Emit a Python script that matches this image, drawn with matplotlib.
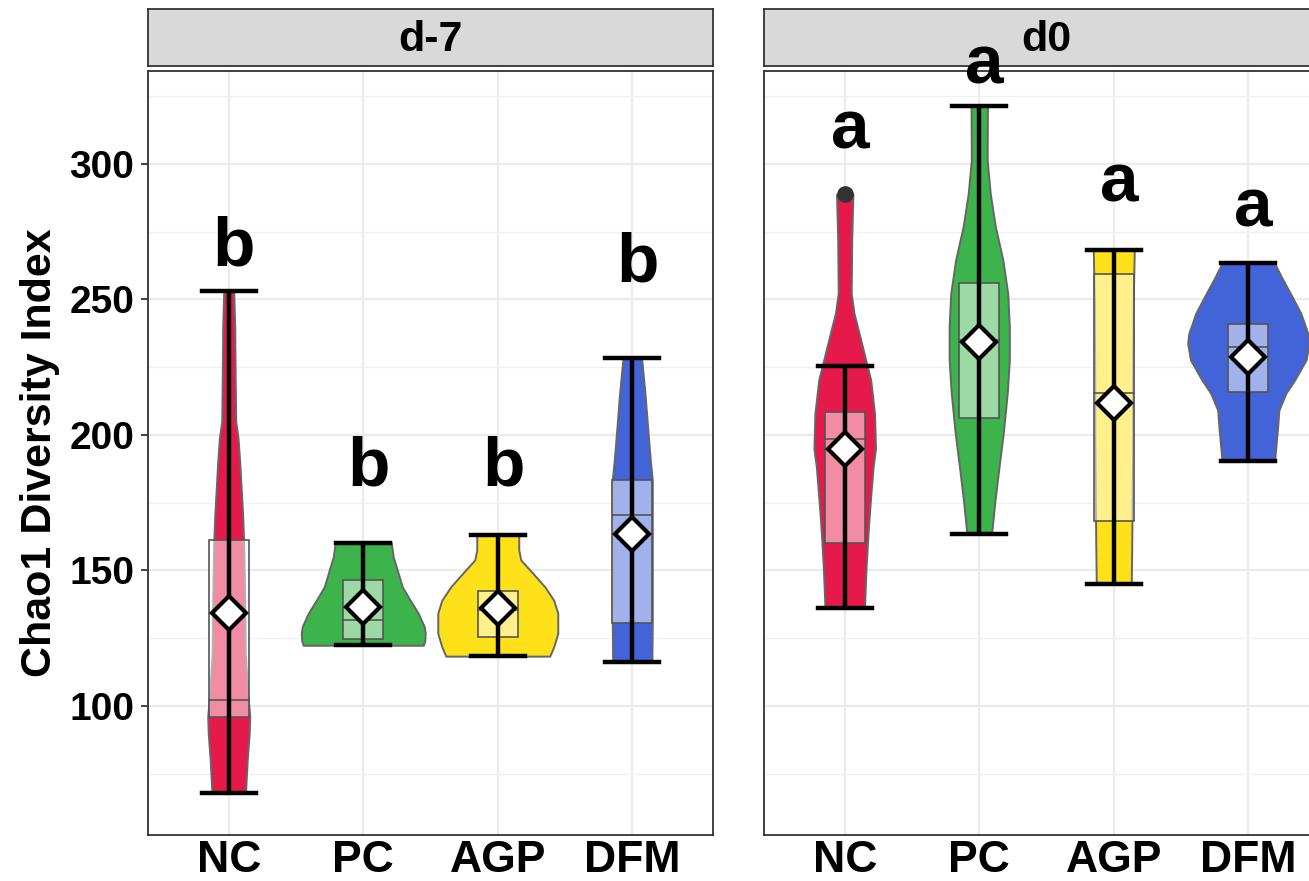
import numpy as np
import matplotlib.pyplot as plt
from matplotlib.patches import Rectangle
from matplotlib import font_manager

plt.rcParams['font.family'] = 'Liberation Sans'

groups = ['NC', 'PC', 'AGP', 'DFM']
colors = ['#E6194B', '#3CB44B', '#FFE119', '#4363D8']

# d-7 summary values (NC, PC, AGP, DFM)
d7_q1 = [95.8, 124.7, 125.6, 130.8]
d7_med = [102.2, 131.7, 135.4, 170.3]
d7_q3 = [161.3, 146.4, 142.6, 183.3]
d7_lo = [68, 122.4, 118.4, 116.4]
d7_hi = [253, 160.3, 163, 228.3]
d7_mean = [134.2, 136.4, 136, 163.3]
d7_letters = ['b', 'b', 'b', 'b']
d7_letter_y = [262.7, 181.5, 181.5, 256.6]
d7_outliers = [[], [], [], []]

# d0 summary values
d0_q1 = [160.3, 206.1, 168.1, 216]
d0_med = [198.5, 235, 215.4, 232.5]
d0_q3 = [208.6, 256.2, 259.3, 240.8]
d0_lo = [136, 163.3, 145, 190.4]
d0_hi = [225.5, 321.4, 268.2, 263.4]
d0_mean = [195, 234.4, 211.7, 228.9]
d0_letters = ['a', 'a', 'a', 'a']
d0_letter_y = [305.8, 329.8, 286.1, 276.9]
d0_outliers = [[288.8], [], [], []]

# violin profiles: Chao1 value and relative density (half width)
d7_vio_y = [
    [68, 80, 90, 96, 105, 120, 140, 160, 170, 180, 190, 199, 205, 220, 240, 253],
    [122.4, 124, 126.8, 129.3, 134.2, 139, 144, 151.4, 155, 160.3],
    [118.4, 121.9, 126.8, 134.2, 139, 144, 149, 153.9, 157.6, 163],
    [116.4, 130, 150, 170, 183.4, 190.8, 203, 215.4, 228.3],
]
d7_vio_w = [
    [16.8, 18.5, 20.5, 21, 19, 16.5, 16, 15, 14, 12.5, 11, 9.3, 7, 6.5, 6, 5],
    [60, 61.5, 62, 61, 55, 47, 39, 33, 30, 28],
    [52, 56, 60, 60, 56, 47, 35, 23, 21, 21],
    [19.6, 20, 20, 20, 20, 18, 15.3, 12.7, 9.3],
]
d0_vio_y = [
    [136.6, 151.4, 163.7, 176, 188.3, 195, 208, 220.3, 227.7, 237.5, 244.9, 252.3, 272, 288.8],
    [163.3, 176, 188.3, 200.6, 215.4, 227.7, 240, 252.3, 264.6, 276.9, 289.2, 301.5, 321.4],
    [145, 160, 180, 200, 220, 250, 268.2],
    [190.4, 203.1, 209.2, 215.4, 220.3, 227.7, 233.8, 237.5, 244.9, 252.3, 258.4, 263.4],
]
d0_vio_w = [
    [19.8, 21.4, 23.3, 25.7, 28.4, 30.8, 29.8, 26, 21, 14.4, 9.3, 6.5, 7, 8.2],
    [12.3, 15.8, 19.8, 24, 28, 30.1, 30.1, 28.5, 23.6, 16.1, 11, 7.9, 8.2],
    [17.5, 18, 18.5, 19, 19, 19.5, 20.5],
    [26.3, 29.4, 30.6, 37.6, 46.4, 57.8, 60.6, 59.5, 52.5, 42, 33, 26.3],
]

W, H = 1309, 881
fig = plt.figure(figsize=(W / 100, H / 100), dpi=100)

panel_left = [148, 764]
panel_w = 565
top, bottom = 71, 835
strip_top, strip_bot = 9, 66
vio_scale = 1 / 134.5
box_half = 0.15
cap_half = 0.2

names = [f.name for f in font_manager.fontManager.ttflist]
narrow = 'Liberation Sans Narrow' in names

# strips first so the letters can sit on top of them
for k, day in enumerate(['d-7', 'd0']):
    sx = fig.add_axes([panel_left[k] / W, 1 - strip_bot / H, panel_w / W, (strip_bot - strip_top) / H])
    sx.set_facecolor('#D9D9D9')
    sx.set_xticks([])
    sx.set_yticks([])
    for s in sx.spines.values():
        s.set_color('#333333')
        s.set_linewidth(1.3)
    sx.text(0.5, 0.45, day, ha='center', va='center', fontsize=31, fontweight='bold',
            transform=sx.transAxes)

panels = [
    (d7_q1, d7_med, d7_q3, d7_lo, d7_hi, d7_mean, d7_vio_y, d7_vio_w, d7_letters, d7_letter_y, d7_outliers),
    (d0_q1, d0_med, d0_q3, d0_lo, d0_hi, d0_mean, d0_vio_y, d0_vio_w, d0_letters, d0_letter_y, d0_outliers),
]

for k, (q1, med, q3, lo, hi, mean, vy, vw, lett, ly, outl) in enumerate(panels):
    ax = fig.add_axes([panel_left[k] / W, 1 - bottom / H, panel_w / W, (bottom - top) / H])
    ax.set_xlim(0.4, 4.6)
    ax.set_ylim(52.4, 334.3)
    ax.set_axisbelow(True)
    ax.set_yticks([100, 150, 200, 250, 300])
    ax.set_yticks(np.arange(75, 330, 50), minor=True)
    ax.set_xticks(range(1, 5))
    ax.set_xticklabels(groups, fontsize=32, fontweight='bold')
    ax.grid(which='major', color='#EBEBEB', lw=1.6)
    ax.grid(which='minor', axis='y', color='#F0F0F0', lw=1.0)
    ax.tick_params(axis='x', length=0, pad=3.5)
    ax.tick_params(which='minor', length=0)
    if k == 0:
        ax.tick_params(axis='y', length=5, width=1.3, color='#333333', pad=5, labelsize=28)
        for t in ax.get_yticklabels():
            t.set_fontweight('bold')
    else:
        ax.tick_params(axis='y', length=0, labelleft=False)
    for s in ax.spines.values():
        s.set_color('#333333')
        s.set_linewidth(1.3)

    for i in range(4):
        x = i + 1
        y = np.asarray(vy[i])
        w = np.asarray(vw[i]) * vio_scale
        ax.fill_betweenx(y, x - w, x + w, facecolor=colors[i], edgecolor='#666666', lw=1.4, zorder=2)
        ax.add_patch(Rectangle((x - box_half, q1[i]), 2 * box_half, q3[i] - q1[i],
                               facecolor=(1, 1, 1, 0.5), edgecolor='#555555', lw=1.2, zorder=3))
        ax.plot([x - box_half, x + box_half], [med[i], med[i]], color='#555555', lw=1.2, zorder=3)
        ax.plot([x, x], [lo[i], hi[i]], color='black', lw=3.2, zorder=4, solid_capstyle='butt')
        ax.plot([x - cap_half, x + cap_half], [lo[i], lo[i]], color='black', lw=3.2, zorder=4)
        ax.plot([x - cap_half, x + cap_half], [hi[i], hi[i]], color='black', lw=3.2, zorder=4)
        for o in outl[i]:
            ax.plot(x, o, 'o', color='#333333', ms=11, zorder=4)
        ax.plot(x, mean[i], marker='D', ms=17, mfc='white', mec='black', mew=3, zorder=5)
        ax.text(x + 0.04, ly[i], lett[i], ha='center', va='baseline', fontsize=50, fontweight='bold',
                clip_on=False, zorder=6)

if narrow:
    fig.text(40 / W, 1 - 453 / H, 'Chao1 Diversity Index', rotation=90, ha='center', va='center',
             fontsize=36, fontweight='bold', family='Liberation Sans Narrow')
else:
    fig.text(40 / W, 1 - 453 / H, 'Chao1 Diversity Index', rotation=90, ha='center', va='center',
             fontsize=31, fontweight='bold')

fig.savefig('out.png', dpi=100)
